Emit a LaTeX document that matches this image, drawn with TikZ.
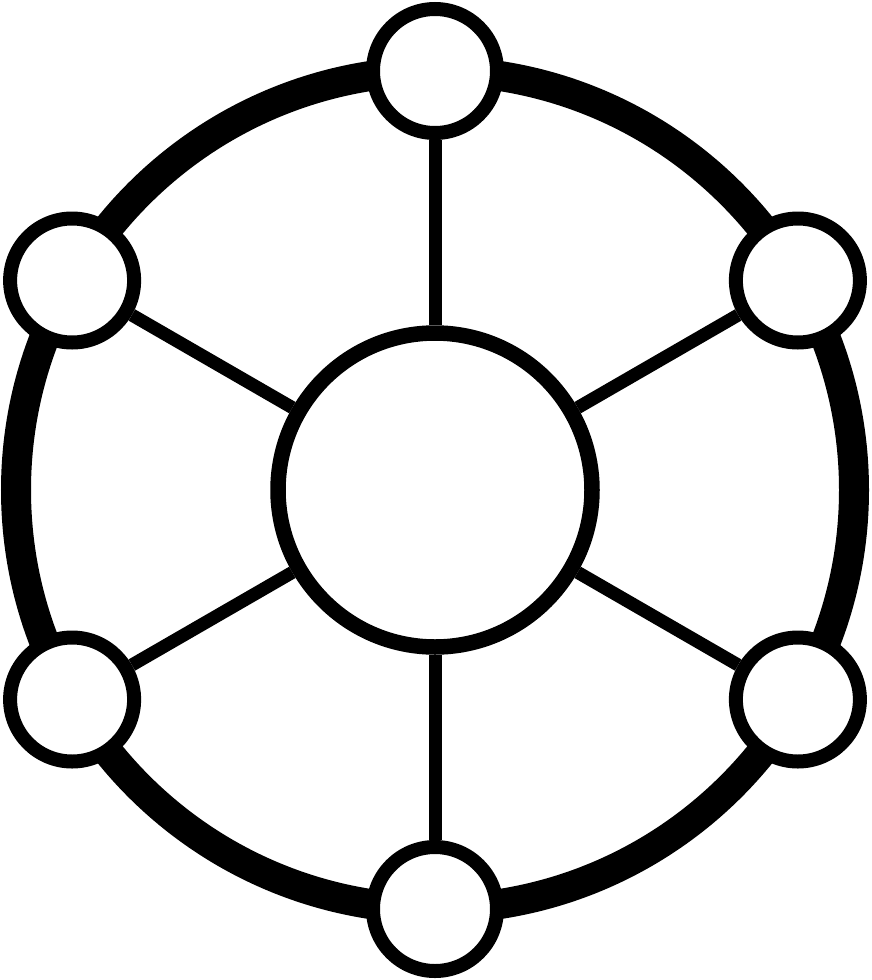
\documentclass[tikz,border=0pt]{standalone}
\begin{document}
\begin{tikzpicture}[x=1pt,y=-1pt,
  ringline/.style={line width=30pt},
  hub/.style={circle,draw,line width=15.5pt,fill=white,inner sep=0pt,minimum size=314pt},
  sat/.style={circle,draw,line width=14pt,fill=white,inner sep=0pt,minimum size=124pt},
  spoke/.style={line width=13pt}]
\useasboundingbox (0,0) rectangle (872,980);
\coordinate (o) at (435,490);
\draw[ringline] (o) circle[radius=419pt];
\node[hub] (c) at (o) {};
\node[sat] (t)  at (435,71) {};
\node[sat] (ul) at (72.1,280.5) {};
\node[sat] (ur) at (797.9,280.5) {};
\node[sat] (ll) at (72.1,699.5) {};
\node[sat] (lr) at (797.9,699.5) {};
\node[sat] (b)  at (435,909) {};
\foreach \s in {t,ul,ur,ll,lr,b}
  \draw[spoke] (c) -- (\s);
\end{tikzpicture}
\end{document}
